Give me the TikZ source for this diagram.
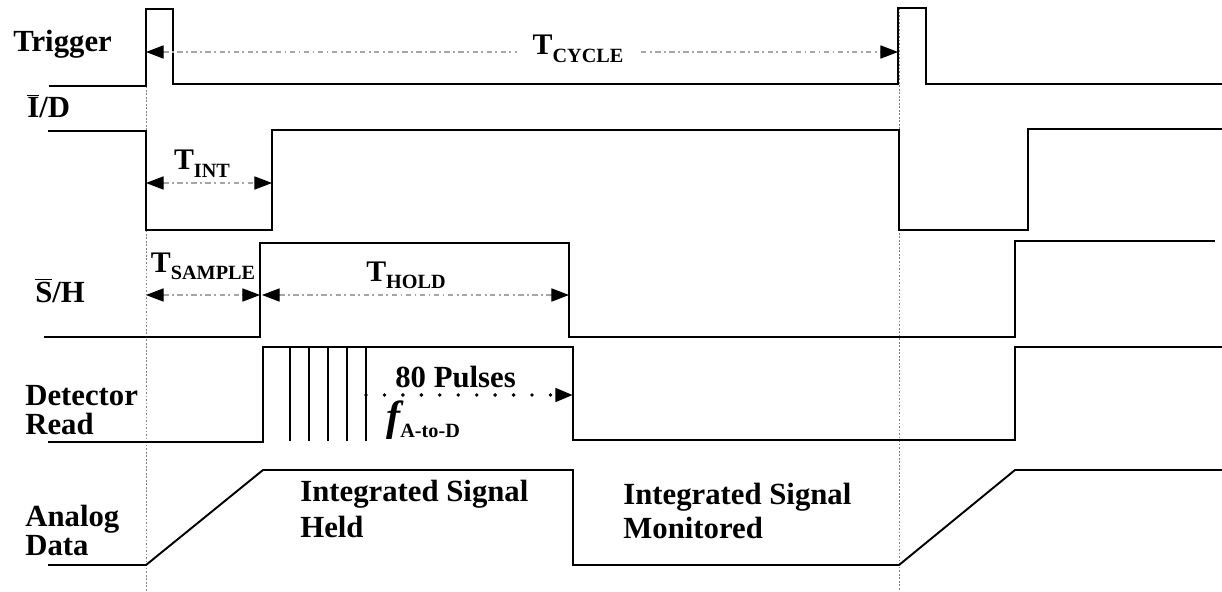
\documentclass[tikz,border=0pt]{standalone}
\usepackage{fontspec}
\setmainfont{Liberation Serif}
\usetikzlibrary{arrows.meta,positioning}

\newcommand{\tsub}[1]{T\raisebox{-4pt}{\fontsize{11.5}{11.5}\selectfont #1}}

\tikzset{
    wave/.style={black,line width=1.1pt,line join=miter},
    guide/.style={gray,line width=0.5pt,dash pattern=on 1pt off 1pt},
    span/.style={gray!70,line width=0.6pt,dash pattern=on 3pt off 2pt on 1pt off 2pt,
        {Triangle[length=10pt,width=7.5pt,black]}-{Triangle[length=10pt,width=7.5pt,black]}},
    pulsearrow/.style={black,line width=2.2pt,line cap=round,dash pattern=on 0pt off 10.5pt,
        -{Triangle[length=10pt,width=7.5pt]}},
    tick/.style={black,line width=0.8pt},
    sig/.style={font=\fontsize{17.5}{16}\selectfont\bfseries,align=left,inner sep=0pt,anchor=base west},
    tlab/.style={font=\fontsize{17}{17}\selectfont\bfseries,inner sep=0pt,anchor=base},
}

\begin{document}
\begin{tikzpicture}[x=0.02cm,y=-0.02cm]
    \useasboundingbox (0,0) rectangle (1222,591);

        \draw[guide] (146,9) -- (146,591);
        \draw[guide] (899,8) -- (899,591);

        \draw[wave] (49,86) -- (146,86) -- (146,9) -- (173,9) -- (173,84) -- (898,84)
            -- (898,8) -- (926,8) -- (926,84) -- (1222,84);
        \draw[wave] (48,131) -- (146,131) -- (146,230) -- (272,230) -- (272,130) -- (899,130)
            -- (899,230) -- (1028,230) -- (1028,129) -- (1222,129);
        \draw[wave] (44,337) -- (260,337) -- (260,243) -- (569,243) -- (569,337) -- (1015,337)
            -- (1015,241) -- (1215,241);
        \draw[wave] (48,442) -- (263,442) -- (263,347) -- (573,347) -- (573,440) -- (1015,440)
            -- (1015,347) -- (1222,347);
        \foreach \x in {290,309,328,347,366}
            \draw[tick] (\x,347) -- (\x,441);
        \draw[wave] (48,565) -- (146,565) -- (263,470) -- (573,470) -- (573,565) -- (899,565)
            -- (1015,470) -- (1222,470);

        \node[sig] (trig) at (13,52) {Trigger};
        \node[sig] (intdump) at (27,118) {$\overline{\mbox{I}}$/D};
        \node[sig] (samphold) at (35,302) {$\overline{\mbox{S}}$/H};
        \node[sig] (detread) at (25,434) {Detector\\Read};
        \node[sig] (analog) at (25,555) {Analog\\Data};

        \draw[span] (146,52) -- (898,52);
        \node[tlab,fill=white,inner xsep=9pt,inner ysep=2pt] (tcycle) at (578,55) {\tsub{CYCLE}};
        \draw[span] (146,183) -- (272,183);
        \node[tlab] (tint) at (202,170) {\tsub{INT}};
        \draw[span] (146,295) -- (260,295);
        \node[tlab] (tsample) at (203,272) {\tsub{SAMPLE}};
        \draw[span] (262,295) -- (569,295);
        \node[tlab] (thold) at (406,281) {\tsub{HOLD}};

        \draw[pulsearrow] (366,395) -- (573,395);
        \node[sig] (pulses) at (395,387) {80 Pulses};
        \node[sig] (fad) at (386,430) {{\fontsize{24}{24}\selectfont\itshape f}\raisebox{-4pt}{\fontsize{11.5}{11.5}\selectfont A-to-D}};

        \node[sig,font=\fontsize{17.5}{20}\selectfont\bfseries] (held) at (300,537) {Integrated Signal\\Held};
        \node[sig,font=\fontsize{17.5}{19}\selectfont\bfseries] (monitored) at (623,538) {Integrated Signal\\Monitored};
            
    \end{tikzpicture}
\end{document}
